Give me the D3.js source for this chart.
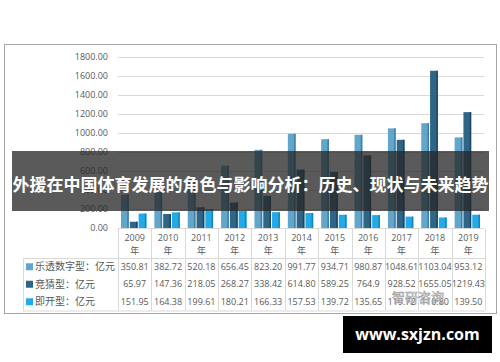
<!DOCTYPE html>
<html>
<head>
<meta charset="utf-8">
<script src="https://d3js.org/d3.v7.min.js"></script>
<style>
  body { margin: 0; background: #fff; }
  svg { display: block; }
</style>
</head>
<body>
<script>
// data
const years = ["2009", "2010", "2011", "2012", "2013", "2014", "2015", "2016", "2017", "2018", "2019"];
const lotto = [350.81, 382.72, 520.18, 656.45, 823.20, 991.77, 934.71, 980.87, 1048.61, 1103.04, 953.12];
const guess = [65.97, 147.36, 218.05, 268.27, 338.42, 614.80, 589.25, 764.9, 928.52, 1655.05, 1219.43];
const instant = [151.95, 164.38, 199.61, 180.21, 166.33, 157.53, 139.72, 135.65, 119.72, 110.80, 139.50];
const yTicks = [0, 200, 400, 600, 800, 1000, 1200, 1400, 1600, 1800];

const series = [
    { name: "乐透数字型：亿元", values: lotto, color: "#62a6cc", side: "#3f7fa3", label: v => v.toFixed(2) },
    { name: "竞猜型：亿元", values: guess, color: "#2f6587", side: "#1d4763", label: v => (v === 764.9 ? "764.9" : v.toFixed(2)) },
    { name: "即开型：亿元", values: instant, color: "#21a9e8", side: "#1584bb", label: v => v.toFixed(2) }
];

const width = 500, height = 362;
const svg = d3.select("body").append("svg")
    .attr("width", width)
    .attr("height", height);

// outer frame
svg.append("rect")
    .attr("x", 4.5).attr("y", 44.5)
    .attr("width", 492).attr("height", 269)
    .attr("fill", "#fff")
    .attr("stroke", "#a6a6a6");

// scales
const x = d3.scaleBand().domain(years).range([118, 485]);
const y = d3.scaleLinear().domain([0, 1800]).range([228, 57]);
const inner = d3.scaleBand().domain([0, 1, 2]).range([3, x.bandwidth() - 5]).paddingInner(0.12);

// grid lines
svg.append("g").selectAll("line")
    .data(yTicks)
    .join("line")
    .attr("x1", 118).attr("x2", 484)
    .attr("y1", d => Math.round(y(d)) + 0.5)
    .attr("y2", d => Math.round(y(d)) + 0.5)
    .attr("stroke", "#d9d9d9");

// y axis labels
const yAxis = svg.append("g")
    .attr("transform", "translate(108,0)")
    .call(d3.axisLeft(y).tickValues(yTicks).tickSize(0).tickPadding(0).tickFormat(d => d.toFixed(2)));
yAxis.select(".domain").remove();
yAxis.selectAll("text")
    .attr("fill", "#595959")
    .attr("font-size", 9)
    .attr("font-family", "'Open Sans', 'Liberation Sans', sans-serif");

// bars
series.forEach((s, i) => {
    const g = svg.append("g");
    g.selectAll("rect.face")
        .data(s.values)
        .join("rect")
        .attr("class", "face")
        .attr("x", (d, j) => x(years[j]) + inner(i))
        .attr("y", d => y(d))
        .attr("width", inner.bandwidth())
        .attr("height", d => y(0) - y(d))
        .attr("fill", s.color);
    // darker right side for the 3D look
    g.selectAll("rect.side")
        .data(s.values)
        .join("rect")
        .attr("class", "side")
        .attr("x", (d, j) => x(years[j]) + inner(i) + inner.bandwidth() - 1.5)
        .attr("y", d => y(d))
        .attr("width", 1.5)
        .attr("height", d => y(0) - y(d))
        .attr("fill", s.side);
});

// data table
const tableTop = 229, headH = 29, rowH = 17.5;
const tableBottom = tableTop + headH + rowH * 3;
const labelLeft = 23;
const lineColor = "#d9d9d9";

const table = svg.append("g");
// vertical lines
const vx = years.map(d => x(d)).concat([x.range()[1]]);
table.selectAll("line.v")
    .data(vx)
    .join("line")
    .attr("x1", d => Math.round(d) + 0.5).attr("x2", d => Math.round(d) + 0.5)
    .attr("y1", tableTop).attr("y2", tableBottom)
    .attr("stroke", lineColor);
table.append("line")
    .attr("x1", labelLeft + 0.5).attr("x2", labelLeft + 0.5)
    .attr("y1", tableTop + headH).attr("y2", tableBottom)
    .attr("stroke", lineColor);
// horizontal lines
table.append("line")
    .attr("x1", labelLeft).attr("x2", 485)
    .attr("y1", tableTop + headH + 0.5).attr("y2", tableTop + headH + 0.5)
    .attr("stroke", lineColor);
table.append("line")
    .attr("x1", labelLeft).attr("x2", 485)
    .attr("y1", tableBottom + 0.5).attr("y2", tableBottom + 0.5)
    .attr("stroke", lineColor);

const txtFont = "'Open Sans', 'Liberation Sans', sans-serif";
const cjkFont = "'Noto Sans CJK SC', sans-serif";

// year header
table.selectAll("text.yr")
    .data(years)
    .join("text")
    .attr("x", d => x(d) + x.bandwidth() / 2)
    .attr("y", tableTop + 12)
    .attr("text-anchor", "middle")
    .attr("font-size", 9)
    .attr("font-family", txtFont)
    .attr("fill", "#595959")
    .text(d => d);
table.selectAll("text.nian")
    .data(years)
    .join("text")
    .attr("x", d => x(d) + x.bandwidth() / 2)
    .attr("y", tableTop + 25)
    .attr("text-anchor", "middle")
    .attr("font-size", 9)
    .attr("font-family", cjkFont)
    .attr("fill", "#595959")
    .text("年");

// rows
series.forEach((s, i) => {
    const cy = tableTop + headH + rowH * i + rowH / 2;
    table.append("rect")
        .attr("x", labelLeft + 3).attr("y", cy - 3.5)
        .attr("width", 7).attr("height", 7)
        .attr("fill", s.color);
    table.append("text")
        .attr("x", labelLeft + 12).attr("y", cy + 3.5)
        .attr("font-size", 10)
        .attr("font-family", cjkFont)
        .attr("fill", "#595959")
        .text(s.name);
    table.selectAll("text.v" + i)
        .data(s.values)
        .join("text")
        .attr("x", (d, j) => x(years[j]) + x.bandwidth() / 2)
        .attr("y", cy + 3.2)
        .attr("text-anchor", "middle")
        .attr("font-size", 9)
        .attr("font-family", txtFont)
        .attr("fill", "#595959")
        .text(d => s.label(d));
});

// faint watermark
svg.append("text")
    .attr("x", 418).attr("y", 302)
    .attr("text-anchor", "middle")
    .attr("font-size", 13)
    .attr("font-family", cjkFont)
    .attr("fill", "#ffffff")
    .attr("fill-opacity", 0.75)
    .attr("stroke", "#9a9a9a")
    .attr("stroke-width", 0.6)
    .text("智研咨询");

// dark title band
svg.append("rect")
    .attr("x", 12).attr("y", 151)
    .attr("width", 477).attr("height", 60)
    .attr("fill", "#262626")
    .attr("fill-opacity", 0.76);
svg.append("text")
    .attr("x", 250.5).attr("y", 191)
    .attr("text-anchor", "middle")
    .attr("font-size", 17)
    .attr("font-weight", "bold")
    .attr("font-family", cjkFont)
    .attr("fill", "#ffffff")
    .text("外援在中国体育发展的角色与影响分析：历史、现状与未来趋势");

// site badge
svg.append("rect")
    .attr("x", 343).attr("y", 316)
    .attr("width", 149).attr("height", 37)
    .attr("fill", "#000");
svg.append("text")
    .attr("x", 417.5).attr("y", 340)
    .attr("text-anchor", "middle")
    .attr("font-size", 16)
    .attr("font-weight", "bold")
    .attr("font-family", "'Open Sans', 'DejaVu Sans', sans-serif")
    .attr("fill", "#fff")
    .text("www.sxjzn.com");
</script>
</body>
</html>
